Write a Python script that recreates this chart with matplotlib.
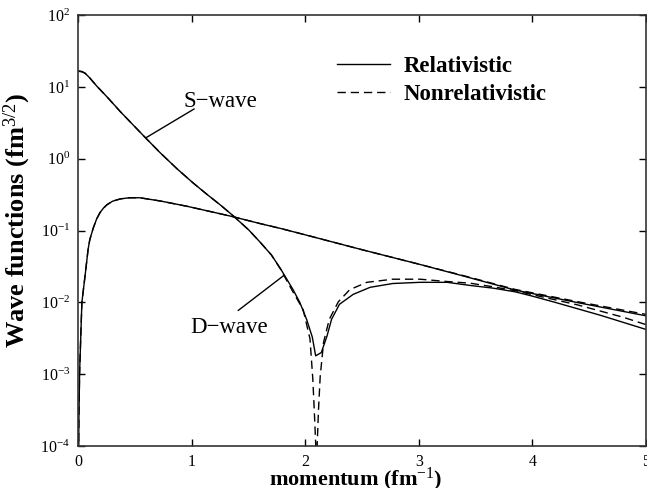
import matplotlib
matplotlib.use("Agg")
import matplotlib.pyplot as plt
from matplotlib.lines import Line2D

plt.rcParams['font.family'] = 'Liberation Serif'
plt.rcParams['mathtext.fontset'] = 'custom'
plt.rcParams['mathtext.rm'] = 'Liberation Serif'
plt.rcParams['mathtext.it'] = 'Liberation Serif:italic'
plt.rcParams['mathtext.bf'] = 'Liberation Serif:bold'

# --- S-wave, relativistic ---
s_rel_k = [0.0, 0.03, 0.057, 0.10, 0.16, 0.25, 0.37, 0.48, 0.59, 0.72, 0.87,
           1.01, 1.13, 1.25, 1.36, 1.50, 1.60, 1.70, 1.78, 1.89, 1.95, 2.01,
           2.06, 2.09, 2.14, 2.19, 2.23, 2.30, 2.42, 2.57, 2.77, 3.01, 3.25,
           3.45, 3.65, 3.85, 4.0, 4.2, 4.6, 5.0]
s_rel_psi = [16.7, 16.4, 15.6, 13.3, 10.3, 7.3, 4.5, 2.97, 1.96, 1.21, 0.72,
             0.46, 0.321, 0.227, 0.162, 0.102, 0.069, 0.0457, 0.0295, 0.0151,
             0.010, 0.0058, 0.0033, 0.0018, 0.0020, 0.0034, 0.0058, 0.0094,
             0.0129, 0.0162, 0.0183, 0.019, 0.019, 0.0172, 0.0158, 0.0140,
             0.0122, 0.0100, 0.0066, 0.0042]

# --- S-wave, nonrelativistic ---
s_nr_k = [0.0, 0.03, 0.057, 0.10, 0.16, 0.25, 0.37, 0.48, 0.59, 0.72, 0.87,
          1.01, 1.13, 1.25, 1.36, 1.50, 1.60, 1.70, 1.78, 1.89, 1.98, 2.04,
          2.065, 2.08, 2.09, 2.097, 2.104, 2.115, 2.13, 2.16, 2.21, 2.29,
          2.39, 2.54, 2.77, 3.01, 3.25, 3.45, 3.65, 3.85, 4.0, 4.4, 4.8, 5.0]
s_nr_psi = [16.5, 16.2, 15.5, 13.3, 10.3, 7.3, 4.5, 2.97, 1.96, 1.21, 0.72,
            0.46, 0.321, 0.227, 0.162, 0.102, 0.069, 0.0457, 0.0290, 0.0140,
            0.0079, 0.0031, 0.00085, 0.00026, 0.00011, 0.00002, 0.00011,
            0.00032, 0.00093, 0.0028, 0.0058, 0.0102, 0.015, 0.019, 0.021,
            0.021, 0.0195, 0.0185, 0.0165, 0.0145, 0.0128, 0.0092, 0.0062,
            0.0049]

# --- D-wave, relativistic ---
d_rel_k = [0.0, 0.004, 0.01, 0.03, 0.06, 0.085, 0.10, 0.13, 0.16, 0.19, 0.22,
           0.25, 0.30, 0.37, 0.45, 0.54, 0.72, 0.96, 1.25, 1.36, 1.60, 1.78,
           2.0, 2.5, 3.0, 3.36, 3.85, 4.4, 5.0]
d_rel_psi = [0.00005, 0.00026, 0.00107, 0.010, 0.025, 0.055, 0.075, 0.108,
             0.145, 0.178, 0.205, 0.228, 0.256, 0.276, 0.286, 0.286, 0.258,
             0.217, 0.171, 0.156, 0.125, 0.107, 0.087, 0.054, 0.034, 0.024,
             0.0148, 0.0099, 0.0065]

# --- D-wave, nonrelativistic ---
d_nr_k = [0.0, 0.004, 0.01, 0.03, 0.06, 0.085, 0.10, 0.13, 0.16, 0.19, 0.22,
          0.25, 0.30, 0.37, 0.45, 0.54, 0.72, 0.96, 1.25, 1.36, 1.60, 1.78,
          2.0, 2.5, 3.0, 3.36, 3.85, 4.4, 5.0]
d_nr_psi = [0.00005, 0.00026, 0.00107, 0.010, 0.025, 0.055, 0.075, 0.108,
            0.145, 0.178, 0.205, 0.228, 0.256, 0.276, 0.286, 0.286, 0.258,
            0.217, 0.171, 0.156, 0.125, 0.107, 0.087, 0.054, 0.034, 0.0243,
            0.0151, 0.0102, 0.0068]

y_ticks = [1e-4, 1e-3, 1e-2, 1e-1, 1e0, 1e1, 1e2]
x_ticks = [0, 1, 2, 3, 4, 5]

fig = plt.figure(figsize=(6.47, 4.88), dpi=100)
ax = fig.add_axes([0.1213, 0.0861, 0.877, 0.883])

dash = (0, (6, 3.5))
ax.plot(s_rel_k, s_rel_psi, color='black', lw=1.0)
ax.plot(s_nr_k, s_nr_psi, color='black', lw=1.0, linestyle=dash)
ax.plot(d_rel_k, d_rel_psi, color='black', lw=1.0)
ax.plot(d_nr_k, d_nr_psi, color='black', lw=1.0, linestyle=dash)

ax.set_yscale('log')
ax.set_xlim(0, 5)
ax.set_ylim(1e-4, 1e2)
ax.set_xticks(x_ticks)
ax.set_yticks(y_ticks)
ax.minorticks_off()
ax.tick_params(direction='in', top=True, right=True, length=5, width=1,
               labelsize=11.5, pad=6)
for sp in ax.spines.values():
    sp.set_color('#333333')
    sp.set_linewidth(1.2)

ax.set_xlabel(r'momentum (fm$^{-1}$)', fontsize=16, fontweight='bold')
ax.set_ylabel(r'Wave functions (fm$^{3/2}$)', fontsize=19, fontweight='bold')
ax.xaxis.set_label_coords(0.489, -0.045)
ax.yaxis.set_label_coords(-0.080, 0.524)

# curve labels with pointer lines
ax.text(1.25, 6.3, 'S\u2212wave', fontsize=16.5, ha='center', va='center')
ax.annotate('', xy=(0.595, 1.96), xytext=(1.02, 4.94),
            arrowprops=dict(arrowstyle='-', lw=1.0, color='black',
                            shrinkA=0, shrinkB=0))
ax.text(1.33, 0.0044, 'D\u2212wave', fontsize=16.5, ha='center', va='center')
ax.annotate('', xy=(1.81, 0.0237), xytext=(1.407, 0.0077),
            arrowprops=dict(arrowstyle='-', lw=1.0, color='black',
                            shrinkA=0, shrinkB=0))

handles = [Line2D([], [], color='black', lw=1.0),
           Line2D([], [], color='black', lw=1.0, linestyle=dash)]
ax.legend(handles, ['Relativistic', 'Nonrelativistic'], loc='upper left',
          bbox_to_anchor=(0.4555, 0.905), frameon=False, borderpad=0,
          borderaxespad=0, handlelength=2.3, handletextpad=0.6,
          labelspacing=0.3, prop={'size': 16.5, 'weight': 'bold'})

fig.savefig('out.png', dpi=100)
